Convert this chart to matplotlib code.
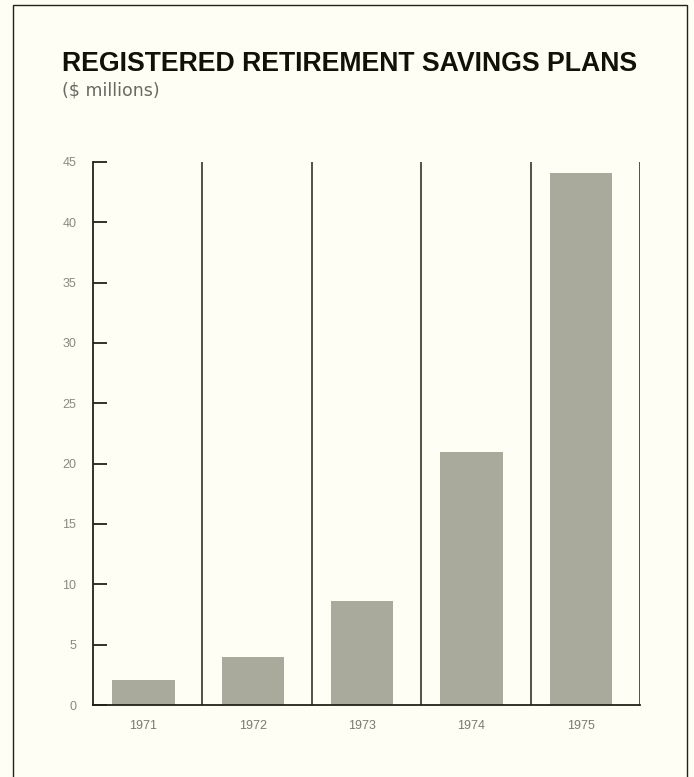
import matplotlib
matplotlib.use("Agg")
import matplotlib.pyplot as plt
from matplotlib.patches import Rectangle

years = ["1971", "1972", "1973", "1974", "1975"]
values = [2.1, 4.0, 8.6, 21.0, 44.1]
yticks = [0, 5, 10, 15, 20, 25, 30, 35, 40, 45]

W, H = 694, 777
bg = "#fefef4"
fig = plt.figure(figsize=(W / 100, H / 100), dpi=100, facecolor=bg)
plt.rcParams["font.family"] = ["Liberation Sans", "DejaVu Sans"]

# outer frame
fig.patches.append(Rectangle((13 / W, -0.01), (687 - 13) / W, (777 - 5) / H + 0.01,
                             transform=fig.transFigure, fill=False,
                             edgecolor="#222218", linewidth=1.0))

ax = fig.add_axes([93 / W, 1 - 705 / H, (640 - 93) / W, (705 - 162) / H])
ax.set_facecolor(bg)
x = list(range(len(years)))
xpos = [i - 0.04 for i in x]
ax.bar(xpos, values, width=0.57, color="#a9a99c", zorder=2)

ax.set_xlim(-0.5, len(years) - 0.5)
ax.set_ylim(0, 45)
for s in ["top", "right"]:
    ax.spines[s].set_visible(False)
ax.spines["left"].set_color("#222218")
ax.spines["bottom"].set_color("#222218")
ax.spines["left"].set_linewidth(1.3)
ax.spines["bottom"].set_linewidth(1.3)
for i in range(1, len(years) + 1):
    ax.axvline(i - 0.5, ymin=0, ymax=1, color="#222218", linewidth=1.1, zorder=3)

ax.set_yticks(yticks)
ax.set_yticklabels([str(v) for v in yticks])
ax.tick_params(axis="y", direction="in", length=10, width=1.3, color="#222218",
               labelcolor="#8a8a80", labelsize=9, pad=12)
ax.set_xticks(xpos)
ax.set_xticklabels(years)
ax.tick_params(axis="x", length=0, labelcolor="#7a7a70", labelsize=9, pad=11)

fig.text(62 / W, 1 - 71 / H, "REGISTERED RETIREMENT SAVINGS PLANS",
         fontsize=19.2, fontweight="bold", color="#111108", ha="left", va="baseline")
fig.text(62 / W, 1 - 95 / H, "($ millions)", fontsize=12.5, color="#6a6a62",
         family=["DejaVu Sans"], ha="left", va="baseline")

fig.savefig("out.png", dpi=100, facecolor=bg)
